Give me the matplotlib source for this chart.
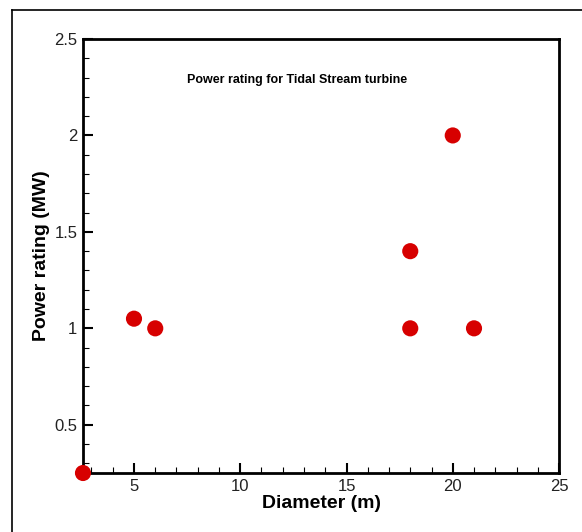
import numpy as np
import matplotlib
matplotlib.use('Agg')
import matplotlib.pyplot as plt
from matplotlib.ticker import MultipleLocator
from matplotlib.lines import Line2D

plt.rcParams['font.family'] = ['Liberation Sans', 'DejaVu Sans']

# Turbine data
diameter = [2.6, 5, 6, 18, 18, 20, 21]          # m
power_rating = [0.25, 1.05, 1.0, 1.0, 1.4, 2.0, 1.0]  # MW

fig = plt.figure(figsize=(5.82, 5.32), dpi=100)
ax = fig.add_axes([0.1426, 0.1109, 0.8179, 0.8158])

ax.scatter(diameter, power_rating, s=135, color='#d70000', edgecolors='none',
           zorder=3, clip_on=False)

ax.set_xlim(2.6, 25)
ax.set_ylim(0.25, 2.5)
ax.xaxis.set_minor_locator(MultipleLocator(1))
ax.yaxis.set_minor_locator(MultipleLocator(0.1))
ax.set_xticks([5, 10, 15, 20, 25])
ax.set_xticklabels(['5', '10', '15', '20', '25'])
ax.set_yticks([0.5, 1, 1.5, 2, 2.5])
ax.set_yticklabels(['0.5', '1', '1.5', '2', '2.5'])

ax.tick_params(which='major', direction='in', length=7, width=1.5, labelsize=12,
               top=False, right=False, pad=4, colors='black', labelcolor='#222222')
ax.tick_params(which='minor', direction='in', length=4, width=0.8, top=False, right=False)

for s in ax.spines.values():
    s.set_linewidth(2)

ax.set_xlabel('Diameter (m)', fontsize=14, fontweight='bold', labelpad=1)
ax.set_ylabel('Power rating (MW)', fontsize=14, fontweight='bold', labelpad=3)
ax.text(0.45, 0.905, 'Power rating for Tidal Stream turbine', transform=ax.transAxes,
        ha='center', va='center', fontsize=9, fontweight='bold')

# outer frame lines
fig.add_artist(Line2D([12/582, 12/582], [0, 1 - 10/532], transform=fig.transFigure,
                      color='black', lw=1.2))
fig.add_artist(Line2D([12/582, 1], [1 - 10/532, 1 - 10/532], transform=fig.transFigure,
                      color='black', lw=1.2))

plt.savefig('out.png', dpi=100)
